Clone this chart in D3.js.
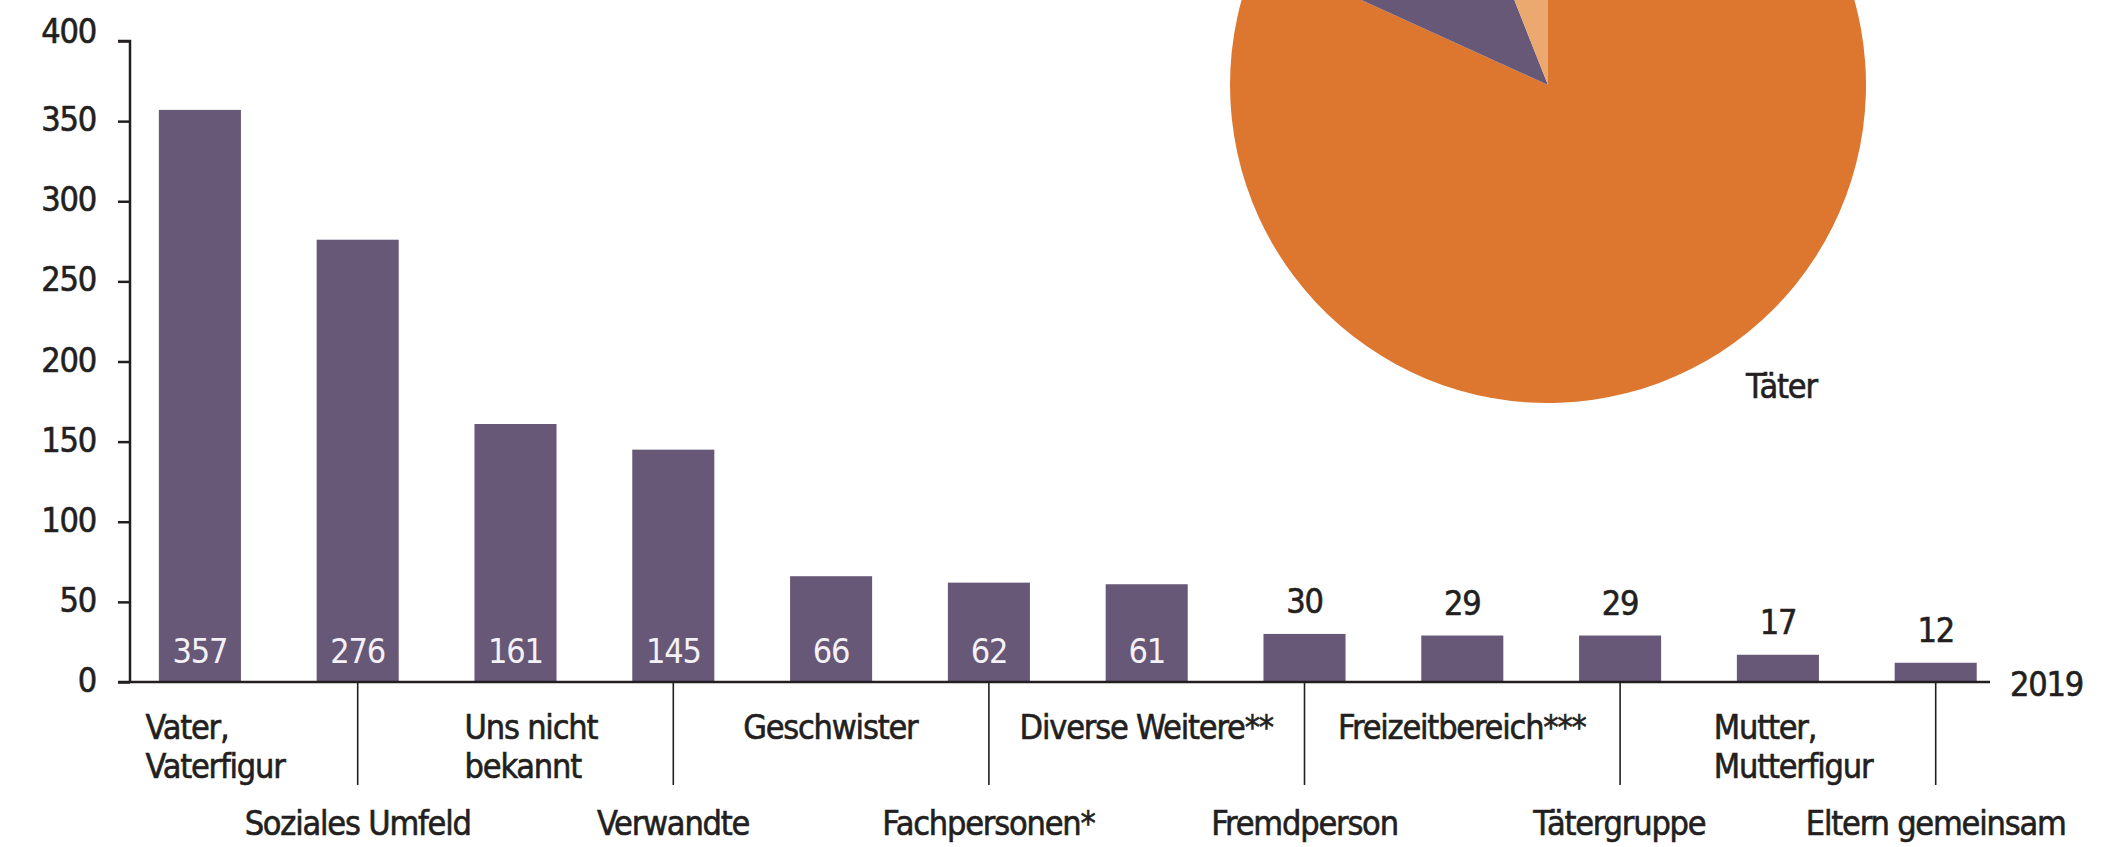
<!DOCTYPE html>
<html>
<head>
<meta charset="utf-8">
<script src="https://cdn.jsdelivr.net/npm/d3@7"></script>
<style>
  body { margin: 0; background: #fff; }
  text { font-family: "Liberation Sans Narrow", "DejaVu Sans Condensed", sans-serif; letter-spacing: -1.2px; }
  .heavy { stroke: #231f20; stroke-width: 0.6px; }
</style>
</head>
<body>
<svg id="chart"></svg>
<script>
// bar chart data (2019)
let categories = [
  "Vater, Vaterfigur", "Soziales Umfeld", "Uns nicht bekannt", "Verwandte",
  "Geschwister", "Fachpersonen*", "Diverse Weitere**", "Fremdperson",
  "Freizeitbereich***", "Tätergruppe", "Mutter, Mutterfigur", "Eltern gemeinsam"
];
let labelLines = [
  ["Vater,", "Vaterfigur"], ["Soziales Umfeld"], ["Uns nicht", "bekannt"], ["Verwandte"],
  ["Geschwister"], ["Fachpersonen*"], ["Diverse Weitere**"], ["Fremdperson"],
  ["Freizeitbereich***"], ["Tätergruppe"], ["Mutter,", "Mutterfigur"], ["Eltern gemeinsam"]
];
let values = [357, 276, 161, 145, 66, 62, 61, 30, 29, 29, 17, 12];
let yTicks = [0, 50, 100, 150, 200, 250, 300, 350, 400];
let yearLabel = "2019";

// pie (only partly visible in the picture)
let pieLabels = ["Täter", "Täterin", "Unbekannt"];
let pieValues = [818, 122, 60];

let width = 2124, height = 847;
let barColor = "#675877";
let pieColors = ["#dd772f", "#675877", "#eca96f"];
let textColor = "#231f20";

let svg = d3.select("#chart").attr("width", width).attr("height", height);
svg.append("rect").attr("width", width).attr("height", height).attr("fill", "#fff");

// pie in the upper right, cut off by the top edge
let pieG = svg.append("g").attr("transform", "translate(1548,85)");
let pie = d3.pie().sort(null).value(d => d);
let arc = d3.arc().innerRadius(0).outerRadius(318);
pieG.selectAll("path")
  .data(pie(pieValues))
  .enter()
  .append("path")
  .attr("d", arc)
  .attr("fill", (d, i) => pieColors[i]);

svg.append("text")
  .attr("class", "heavy")
  .attr("x", 1746)
  .attr("y", 398)
  .attr("font-size", 34)
  .attr("fill", textColor)
  .text(pieLabels[0]);

// scales
let x = d3.scaleBand()
  .domain(categories)
  .range([121, 121 + 12 * 157.8])
  .paddingInner(0.48)
  .paddingOuter(0.24);

let y = d3.scaleLinear().domain([0, 400]).range([682, 41]);

// y axis
let yAxis = d3.axisLeft(y).tickValues(yTicks).tickSize(12).tickPadding(22);
let yg = svg.append("g").attr("transform", "translate(130,0)").call(yAxis);
yg.select(".domain").attr("stroke", textColor).attr("stroke-width", 2.5)
  .attr("d", `M-12,${y(400)}H0V${y(0)}`);
yg.selectAll(".tick line").attr("stroke", textColor).attr("stroke-width", 2.5);
yg.selectAll(".tick text")
  .attr("class", "heavy")
  .attr("font-size", 34)
  .attr("fill", textColor)
  .attr("font-family", '"Liberation Sans Narrow", "DejaVu Sans Condensed", sans-serif')
  .attr("dy", "0.34em")
  .attr("y", d => d == 400 ? -10 : -2);

// bars
svg.append("g")
  .selectAll("rect")
  .data(values)
  .enter()
  .append("rect")
  .attr("x", (d, i) => x(categories[i]))
  .attr("width", x.bandwidth())
  .attr("y", d => y(d))
  .attr("height", d => y(0) - y(d))
  .attr("fill", barColor);

// value labels: inside for tall bars, above for short ones
svg.append("g")
  .selectAll("text")
  .data(values)
  .enter()
  .append("text")
  .attr("class", d => d > 50 ? null : "heavy")
  .attr("x", (d, i) => x(categories[i]) + x.bandwidth() / 2)
  .attr("y", d => d > 50 ? y(0) - 19 : y(d) - 21)
  .attr("text-anchor", "middle")
  .attr("font-size", 34)
  .attr("fill", d => d > 50 ? "#f4f1f7" : textColor)
  .text(d => d);

// x axis line
svg.append("line")
  .attr("x1", 118).attr("x2", 1990)
  .attr("y1", y(0)).attr("y2", y(0))
  .attr("stroke", textColor)
  .attr("stroke-width", 2.5);

// separators under every second bar
svg.append("g")
  .selectAll("line")
  .data(categories.filter((c, i) => i % 2 == 1))
  .enter()
  .append("line")
  .attr("x1", c => x(c) + x.bandwidth() / 2)
  .attr("x2", c => x(c) + x.bandwidth() / 2)
  .attr("y1", y(0))
  .attr("y2", 785)
  .attr("stroke", textColor)
  .attr("stroke-width", 1.6);

// category labels, alternating rows
let catG = svg.append("g");
labelLines.forEach(function(lines, i) {
  let cx = x(categories[i]) + x.bandwidth() / 2;
  let top = i % 2 == 0;
  let t = catG.append("text")
    .attr("class", "heavy")
    .attr("font-size", 34)
    .attr("fill", textColor);
  lines.forEach(function(line, j) {
    t.append("tspan")
      .attr("x", 0)
      .attr("y", (top ? 739 : 835) + j * 39)
      .text(line);
  });
  // left-aligned block, centred under its bar
  let w = t.node().getBBox().width;
  let shift = lines.length > 1 ? 16 : 0;
  t.attr("transform", `translate(${cx - w / 2 + shift},0)`);
});

svg.append("text")
  .attr("class", "heavy")
  .attr("x", 2010)
  .attr("y", 696)
  .attr("font-size", 34)
  .attr("fill", textColor)
  .text(yearLabel);
</script>
</body>
</html>
